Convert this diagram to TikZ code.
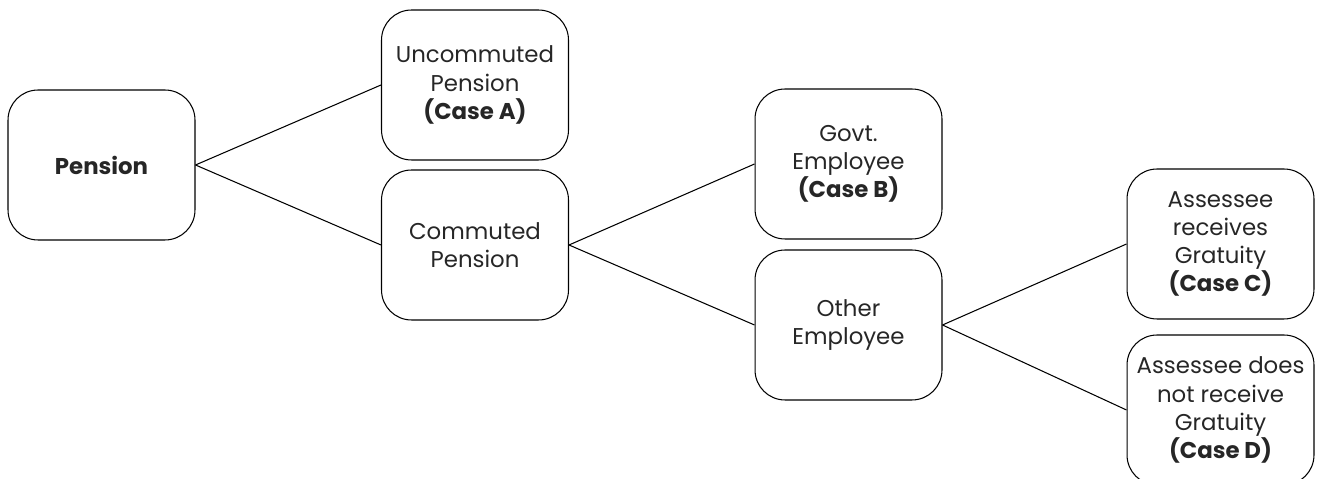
\documentclass[tikz,border=0pt]{standalone}
\usepackage{fontspec}
\setmainfont{Poppins}
\tikzset{
  casebox/.style = {draw, rounded corners = 0.6cm, minimum width = 3.74cm,
    minimum height = 3cm, align = center, line width = 0.6pt,
    font = \fontsize{13}{16}\selectfont, text = black!85},
  branch/.style = {line width = 0.6pt}
}

\begin{document}
\begin{tikzpicture}[x = 0.02cm, y = 0.02cm]
  \useasboundingbox (0, 0) rectangle (1317, 479);

  \node[casebox] (pension) at (101.5, 314) {\textbf{Pension}};
  \node[casebox] (uncomm) at (475, 394) {Uncommuted\\Pension\\\textbf{(Case A)}};
  \node[casebox] (comm) at (475, 234) {Commuted\\Pension};
  \node[casebox] (govt) at (848.5, 315) {Govt.\\Employee\\\textbf{(Case B)}};
  \node[casebox] (other) at (848.5, 154) {Other\\Employee};
  \node[casebox] (caseC) at (1220.5, 235) {Assessee\\receives\\Gratuity\\\textbf{(Case C)}};
  \node[casebox] (caseD) at (1220.5, 69) {Assessee does\\not receive\\Gratuity\\\textbf{(Case D)}};

  \foreach \a/\b in {pension/uncomm, pension/comm, comm/govt, comm/other,
    other/caseC, other/caseD}{
    \draw[branch] (\a.east) -- (\b.west);
  }
\end{tikzpicture}
\end{document}
